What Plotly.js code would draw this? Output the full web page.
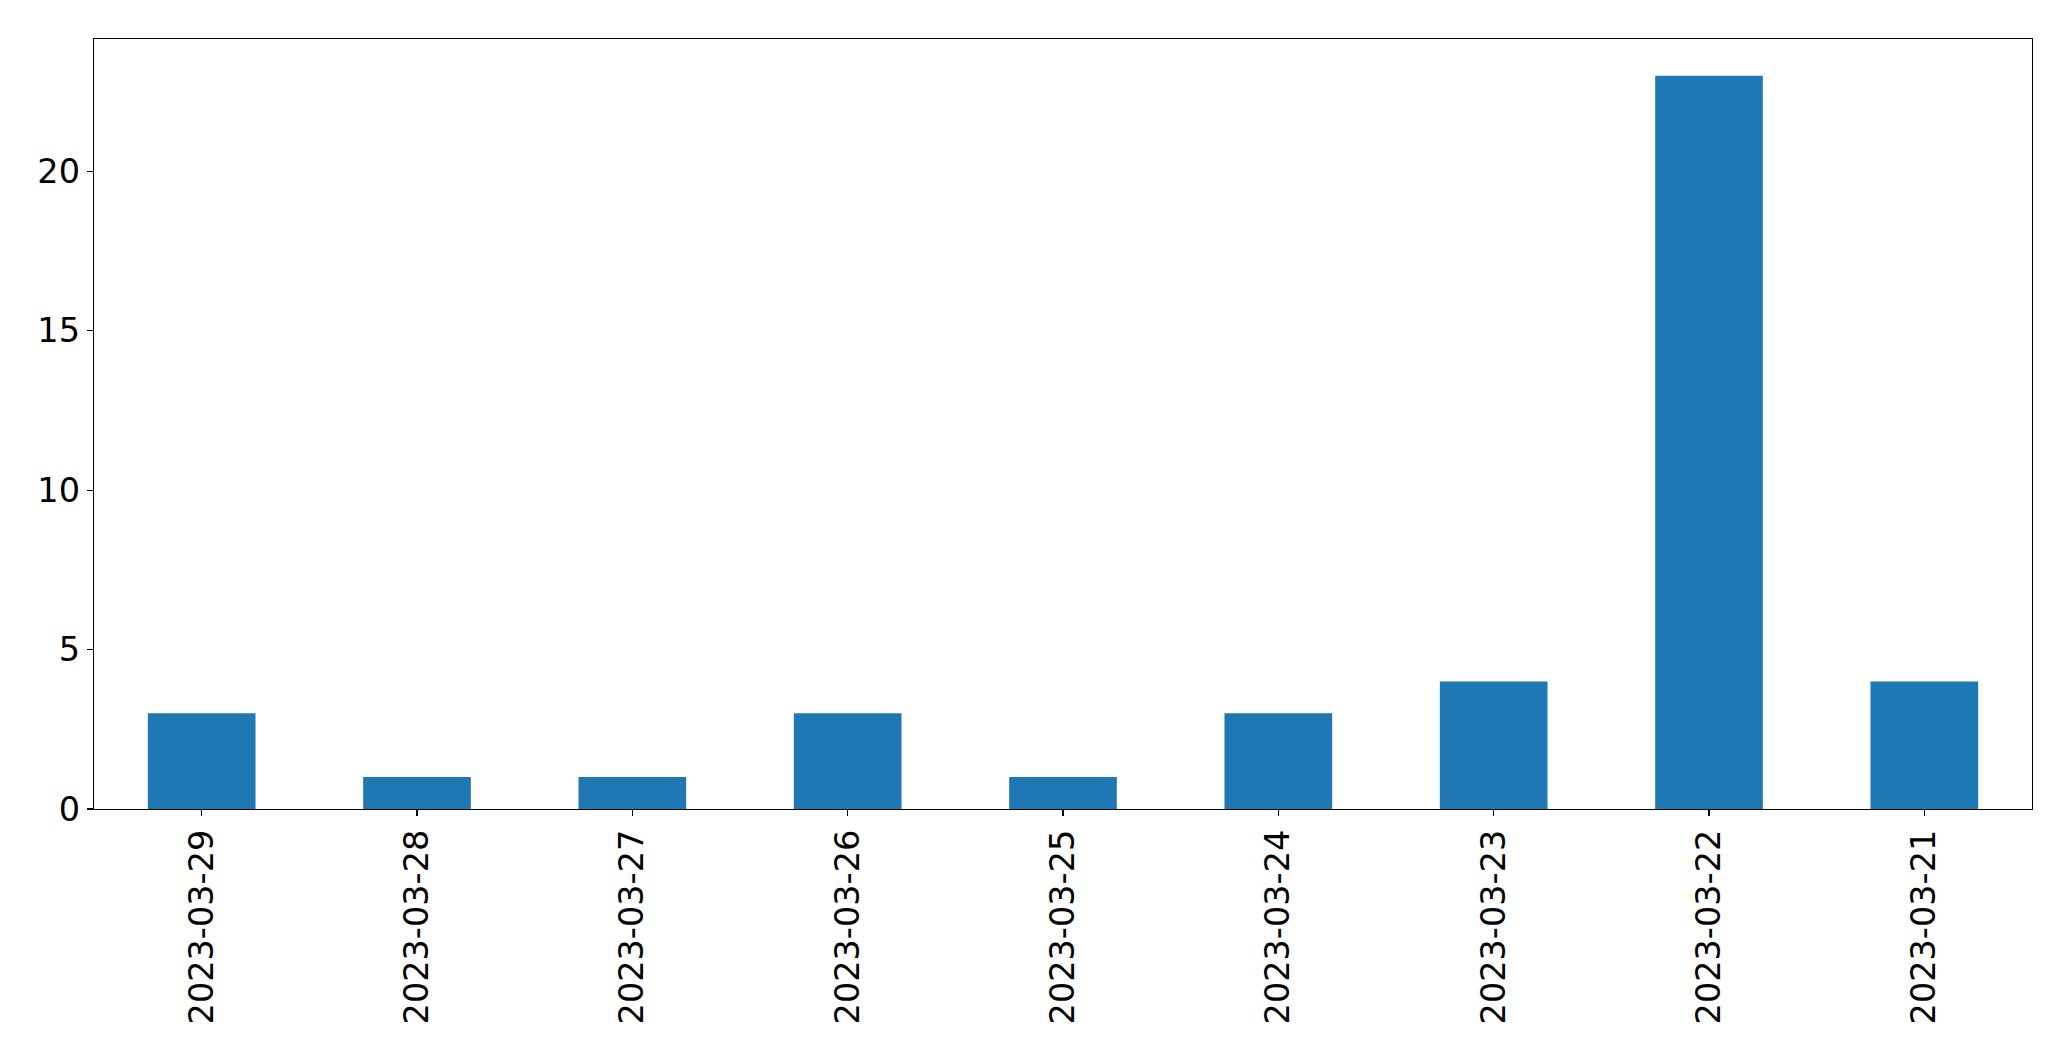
<!DOCTYPE html>
<html>
<head>
<meta charset="utf-8">
<script src="https://cdn.plot.ly/plotly-3.0.1.min.js"></script>
<style>
html, body { margin: 0; padding: 0; background: #fff; }
#chart { width: 2071px; height: 1061px; }
</style>
</head>
<body>
<div id="chart"></div>
<script>
const dates = ["2023-03-29", "2023-03-28", "2023-03-27", "2023-03-26", "2023-03-25", "2023-03-24", "2023-03-23", "2023-03-22", "2023-03-21"];
const counts = [3, 1, 1, 3, 1, 3, 4, 23, 4];
const yTicks = [0, 5, 10, 15, 20];

const trace = {
  type: 'bar',
  x: dates,
  y: counts,
  width: 0.5,
  marker: { color: '#1f77b4', line: { width: 0 } },
  hoverinfo: 'x+y'
};

const layout = {
  width: 2071,
  height: 1061,
  margin: { l: 94, r: 39, t: 39, b: 252, pad: 0 },
  paper_bgcolor: '#ffffff',
  plot_bgcolor: '#ffffff',
  showlegend: false,
  font: { family: 'DejaVu Sans', size: 33.5, color: '#000000' },
  xaxis: {
    type: 'category',
    range: [-0.5, dates.length - 0.5],
    tickangle: -90,
    ticks: 'outside',
    ticklen: 6,
    tickwidth: 1.3,
    tickcolor: '#000',
    showline: true,
    linecolor: '#000',
    linewidth: 1.3,
    mirror: true,
    showgrid: false,
    zeroline: false,
    tickfont: { family: 'DejaVu Sans', size: 33.5, color: '#000' }
  },
  yaxis: {
    range: [0, Math.max(...counts) * 1.05],
    tickvals: yTicks,
    ticktext: yTicks.map(String),
    ticks: 'outside',
    ticklen: 6,
    tickwidth: 1.3,
    tickcolor: '#000',
    showline: true,
    linecolor: '#000',
    linewidth: 1.3,
    mirror: true,
    showgrid: false,
    zeroline: false,
    tickfont: { family: 'DejaVu Sans', size: 33.5, color: '#000' }
  },
  bargap: 0.5
};

Plotly.newPlot('chart', [trace], layout, { staticPlot: true, displayModeBar: false });
</script>
</body>
</html>
